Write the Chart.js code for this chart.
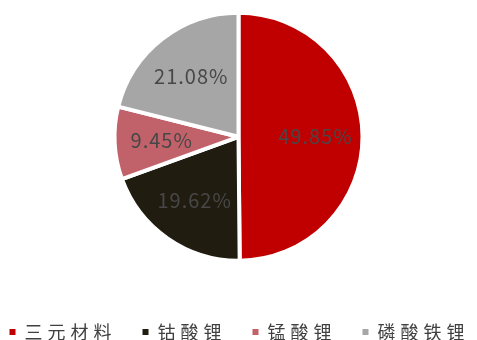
<!DOCTYPE html>
<html>
<head>
<meta charset="utf-8">
<script src="https://cdn.jsdelivr.net/npm/chart.js@4.4.0/dist/chart.umd.min.js"></script>
<style>
  html, body { margin: 0; padding: 0; background: #fff; }
  #wrap { width: 477px; height: 340px; }
</style>
</head>
<body>
<div id="wrap"><canvas id="pieChart"></canvas></div>
<script>
const categories = ['三元材料', '钴酸锂', '锰酸锂', '磷酸铁锂'];
const shares = [49.85, 19.62, 9.45, 21.08];
const colors = ['#C00000', '#201C10', '#C1626A', '#A6A6A6'];

// wider character spacing for the legend text
const legendSpacing = {
    id: 'legendSpacing',
    beforeLayout(chart) { chart.ctx.letterSpacing = '5px'; },
    beforeDraw(chart) { chart.ctx.letterSpacing = '5px'; }
};

// percentage labels inside each slice
const sliceLabels = {
    id: 'sliceLabels',
    afterDatasetsDraw(chart) {
        const ctx = chart.ctx;
        const meta = chart.getDatasetMeta(0);
        ctx.save();
        ctx.letterSpacing = '1px';
        ctx.font = '20px "Noto Sans CJK SC", "Noto Sans"';
        ctx.fillStyle = '#474747';
        ctx.textAlign = 'center';
        ctx.textBaseline = 'middle';
        meta.data.forEach((arc, i) => {
            const p = arc.getProps(['x', 'y', 'startAngle', 'endAngle', 'outerRadius'], true);
            const mid = (p.startAngle + p.endAngle) / 2;
            const r = p.outerRadius * 0.62;
            ctx.fillText(shares[i].toFixed(2) + '%', p.x + Math.cos(mid) * r, p.y + Math.sin(mid) * r);
        });
        ctx.restore();
    }
};

const defaultLabels = Chart.overrides.pie.plugins.legend.labels.generateLabels;

new Chart(document.getElementById('pieChart').getContext('2d'), {
    type: 'pie',
    data: {
        labels: categories,
        datasets: [{
            data: shares,
            backgroundColor: colors,
            borderColor: '#ffffff',
            borderWidth: 4
        }]
    },
    options: {
        responsive: true,
        maintainAspectRatio: false,
        animation: false,
        devicePixelRatio: 1,
        radius: 124,
        layout: {
            padding: { top: 3, bottom: -11, left: -20, right: -22 }
        },
        plugins: {
            tooltip: { enabled: false },
            legend: {
                position: 'bottom',
                // empty title just adds space above the items
                title: { display: true, text: '', padding: 0, font: { size: 22 } },
                labels: {
                    boxWidth: 6,
                    boxHeight: 6,
                    padding: 26,
                    color: '#404040',
                    font: { size: 18, family: '"Noto Sans CJK SC"' },
                    generateLabels(chart) {
                        return defaultLabels(chart).map(item => {
                            item.lineWidth = 0;
                            return item;
                        });
                    }
                }
            }
        }
    },
    plugins: [legendSpacing, sliceLabels]
});
</script>
</body>
</html>
